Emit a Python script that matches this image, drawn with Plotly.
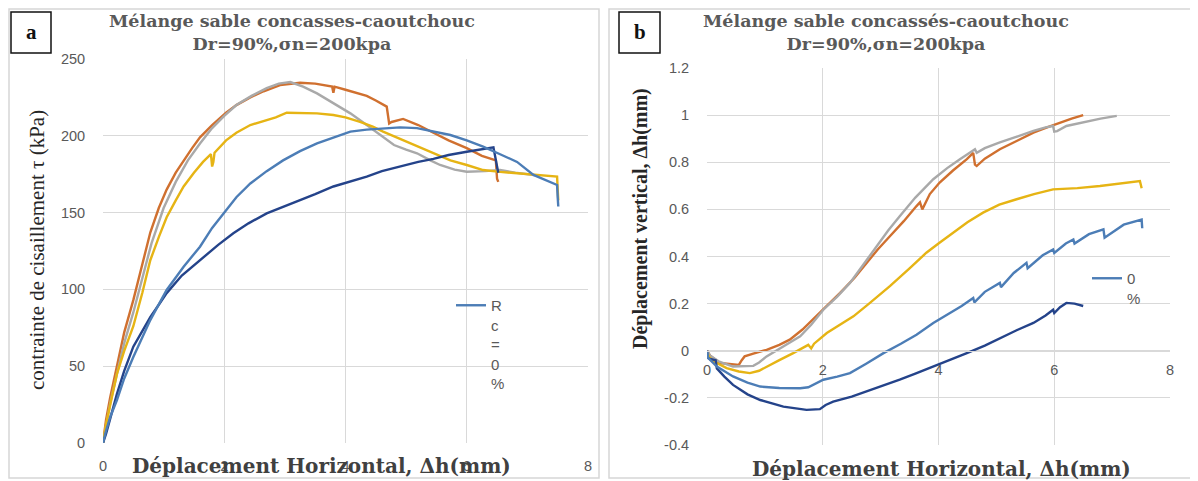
import plotly.graph_objects as go

W, H = 1198, 481

# ---------------- DATA ----------------
# Panel a : shear stress (kPa) vs horizontal displacement (mm)
a_orange_x = [0, 0.05, 0.12, 0.23, 0.35, 0.5, 0.65, 0.78, 0.92, 1.05, 1.2, 1.33, 1.47, 1.6, 1.8, 2.03, 2.2, 2.43, 2.65, 2.92, 3.1, 3.25, 3.5, 3.78, 3.8, 3.82, 4.0, 4.2, 4.35, 4.5, 4.68, 4.72, 4.76, 4.95, 5.2, 5.45, 5.7, 6.0, 6.25, 6.48, 6.5, 6.52]
a_orange_y = [0, 15, 30, 50, 72, 93, 117, 137, 153, 165, 176, 184, 192, 199, 207, 215, 220, 225, 229, 233, 234, 234.5, 234, 232, 228, 232, 230, 228, 226, 223, 219, 208, 209, 211, 207, 202, 197, 192, 187, 184, 172, 170]

a_gray_x = [0, 0.05, 0.12, 0.23, 0.35, 0.5, 0.65, 0.8, 1.0, 1.2, 1.4, 1.6, 1.8, 2.0, 2.2, 2.45, 2.7, 2.9, 3.09, 3.3, 3.53, 3.8, 4.08, 4.35, 4.62, 4.8, 5.0, 5.18, 5.4, 5.56, 5.8, 6.0, 6.3, 6.55, 6.8, 7.1, 7.2]
a_gray_y = [0, 12, 26, 45, 65, 85, 108, 130, 153, 170, 184, 195, 205, 213, 220, 226, 231, 234, 235, 232, 227.6, 221, 214.6, 207, 199, 194, 191, 188.6, 184, 181, 178, 176.6, 177, 177.7, 176, 174.5, 174]

a_gold_x = [0, 0.05, 0.12, 0.23, 0.35, 0.5, 0.65, 0.78, 0.92, 1.05, 1.2, 1.33, 1.5, 1.65, 1.78, 1.8, 1.82, 1.84, 2.03, 2.2, 2.43, 2.7, 2.85, 3.03, 3.3, 3.53, 3.8, 4.0, 4.24, 4.45, 4.62, 4.9, 5.18, 5.45, 5.73, 6.0, 6.27, 6.55, 6.83, 7.1, 7.3, 7.49, 7.5, 7.51]
a_gold_y = [0, 12, 25, 45, 60, 76, 98, 119, 134, 147, 158, 167, 176, 183, 188, 180, 183, 189, 197, 202, 207, 210, 212, 215, 215, 214.6, 213.5, 212, 209, 206, 202.7, 198, 193, 188.6, 184, 181, 177.7, 176.5, 175.6, 174.5, 174, 173.4, 165, 158]

a_steel_x = [0, 0.05, 0.12, 0.23, 0.35, 0.5, 0.78, 1.05, 1.33, 1.6, 1.8, 2.03, 2.2, 2.43, 2.7, 2.97, 3.25, 3.53, 3.8, 4.08, 4.35, 4.62, 4.9, 5.18, 5.45, 5.73, 6.0, 6.27, 6.55, 6.83, 7.1, 7.3, 7.49, 7.5, 7.51]
a_steel_y = [0, 8, 17, 28, 42, 56, 80, 99.6, 114.8, 127.8, 140, 151.7, 160, 169, 177, 184, 190, 195, 199, 202.7, 204, 204.9, 205.5, 205, 203, 200.5, 197, 193, 188, 183, 174.5, 171, 168, 160, 154]

a_navy_x = [0, 0.05, 0.12, 0.23, 0.35, 0.5, 0.65, 0.78, 0.92, 1.05, 1.3, 1.6, 1.9, 2.15, 2.4, 2.7, 3.0, 3.25, 3.5, 3.8, 4.1, 4.35, 4.6, 4.9, 5.2, 5.45, 5.7, 6.0, 6.2, 6.44, 6.5, 6.52]
a_navy_y = [0, 6, 16, 32, 47, 62.7, 73, 82, 90, 97.6, 109, 119, 129, 136.5, 143, 149.5, 154, 158, 162, 167, 170.5, 173.4, 177, 180, 183, 185, 187.5, 189.6, 191, 192.5, 180, 176]

# Panel b : vertical displacement (mm) vs horizontal displacement (mm)
b_orange_x = [0, 0.05, 0.22, 0.4, 0.55, 0.6, 0.65, 0.8, 1.03, 1.25, 1.43, 1.65, 1.89, 2.1, 2.3, 2.55, 2.76, 2.95, 3.16, 3.4, 3.62, 3.68, 3.72, 3.85, 4.02, 4.25, 4.49, 4.6, 4.63, 4.66, 4.8, 5.06, 5.35, 5.64, 5.9, 6.1, 6.3, 6.5]
b_orange_y = [0, -0.02, -0.052, -0.058, -0.06, -0.04, -0.024, -0.012, 0.004, 0.025, 0.047, 0.09, 0.146, 0.195, 0.246, 0.31, 0.373, 0.43, 0.486, 0.55, 0.614, 0.63, 0.6, 0.665, 0.714, 0.765, 0.813, 0.84, 0.79, 0.784, 0.815, 0.855, 0.89, 0.926, 0.95, 0.969, 0.985, 1.0]

b_gray_x = [0, 0.05, 0.2, 0.45, 0.8, 0.9, 1.03, 1.3, 1.61, 1.8, 2.01, 2.25, 2.47, 2.7, 2.93, 3.13, 3.33, 3.6, 3.91, 4.15, 4.37, 4.55, 4.63, 4.66, 4.8, 5.06, 5.35, 5.64, 5.85, 5.98, 6.0, 6.05, 6.21, 6.5, 6.8, 7.08]
b_gray_y = [0, -0.02, -0.045, -0.067, -0.064, -0.05, -0.024, 0.015, 0.061, 0.11, 0.174, 0.23, 0.288, 0.365, 0.444, 0.51, 0.571, 0.65, 0.728, 0.775, 0.813, 0.84, 0.855, 0.84, 0.86, 0.884, 0.91, 0.933, 0.948, 0.954, 0.93, 0.932, 0.954, 0.97, 0.985, 0.997]

b_gold_x = [0, 0.05, 0.15, 0.34, 0.55, 0.74, 0.9, 1.03, 1.25, 1.49, 1.75, 1.8, 1.85, 2.07, 2.3, 2.53, 2.8, 3.16, 3.5, 3.79, 4.0, 4.25, 4.5, 4.77, 5.05, 5.35, 5.65, 5.98, 6.4, 6.79, 7.1, 7.48, 7.5, 7.51]
b_gold_y = [-0.01, -0.03, -0.05, -0.074, -0.088, -0.095, -0.085, -0.067, -0.04, -0.01, 0.025, 0.01, 0.03, 0.075, 0.11, 0.146, 0.2, 0.274, 0.35, 0.416, 0.455, 0.501, 0.545, 0.586, 0.62, 0.643, 0.665, 0.685, 0.69, 0.699, 0.708, 0.72, 0.7, 0.69]

b_steel_x = [0, 0.02, 0.17, 0.45, 0.7, 0.92, 1.25, 1.61, 1.75, 1.84, 2.01, 2.25, 2.47, 2.75, 3.05, 3.35, 3.62, 3.91, 4.2, 4.4, 4.6, 4.62, 4.8, 5.06, 5.08, 5.3, 5.52, 5.54, 5.8, 5.98, 6.0, 6.2, 6.33, 6.35, 6.6, 6.85, 6.87, 7.2, 7.51, 7.52]
b_steel_y = [0, -0.03, -0.067, -0.109, -0.135, -0.152, -0.158, -0.159, -0.155, -0.145, -0.123, -0.11, -0.095, -0.055, -0.01, 0.03, 0.068, 0.118, 0.16, 0.19, 0.224, 0.205, 0.25, 0.288, 0.27, 0.33, 0.373, 0.35, 0.405, 0.43, 0.415, 0.455, 0.472, 0.455, 0.495, 0.515, 0.48, 0.535, 0.557, 0.52]

b_navy_x = [0, 0.01, 0.05, 0.15, 0.17, 0.3, 0.45, 0.7, 0.92, 1.32, 1.72, 1.95, 2.05, 2.18, 2.5, 2.76, 3.05, 3.33, 3.6, 3.91, 4.2, 4.49, 4.8, 5.06, 5.35, 5.64, 5.85, 5.98, 6.0, 6.1, 6.21, 6.35, 6.5]
b_navy_y = [0, -0.03, -0.035, -0.04, -0.075, -0.11, -0.145, -0.185, -0.209, -0.237, -0.251, -0.248, -0.23, -0.216, -0.195, -0.173, -0.148, -0.123, -0.097, -0.067, -0.04, -0.01, 0.022, 0.054, 0.087, 0.118, 0.15, 0.174, 0.16, 0.185, 0.203, 0.2, 0.19]

legend_a_name = "R<br>c<br>=<br>0<br>%"
legend_b_name = "0<br>%"
title_text_a = "Mélange sable concasses-caoutchouc<br>Dr=90%,σn=200kpa"
title_text_b = "Mélange sable concassés-caoutchouc<br>Dr=90%,σn=200kpa"
xtitle = "Déplacement Horizontal, Δh(mm)"
ytitle_a = "contrainte de cisaillement τ (kPa)"
ytitle_b = "Déplacement vertical, Δh(mm)"
a_yticks = [0, 50, 100, 150, 200, 250]
b_yticks = [-0.4, -0.2, 0, 0.2, 0.4, 0.6, 0.8, 1, 1.2]
b_yticklabels = ["-0.4", "-0.2", "0", "0.2", "0.4", "0.6", "0.8", "1", "1.2"]
xticks = [0, 2, 4, 6, 8]

# ---------------- STYLE ----------------
C_ORANGE = "#D0702F"
C_GRAY = "#A9A9A9"
C_GOLD = "#E6B414"
C_STEEL = "#4C7DB6"
C_NAVY = "#24438A"
GRID = "#D9D9D9"
TICKC = "#595959"
LW = 2.4

# the page places the figure 8 px in from the top-left corner
OFF = 8


def fx(px):
    return (px - OFF) / W


def fy(py):
    return 1 - (py - OFF) / H


fig = go.Figure()

series_a = [
    (a_orange_x, a_orange_y, C_ORANGE, None),
    (a_gray_x, a_gray_y, C_GRAY, None),
    (a_gold_x, a_gold_y, C_GOLD, None),
    (a_navy_x, a_navy_y, C_NAVY, None),
    (a_steel_x, a_steel_y, C_STEEL, legend_a_name),
]
for xs, ys, c, name in series_a:
    fig.add_trace(go.Scatter(
        x=xs, y=ys, mode="lines", line=dict(color=c, width=LW),
        xaxis="x", yaxis="y", name=name if name else "",
        showlegend=bool(name), legend="legend", hoverinfo="skip"))

series_b = [
    (b_orange_x, b_orange_y, C_ORANGE, None),
    (b_gray_x, b_gray_y, C_GRAY, None),
    (b_gold_x, b_gold_y, C_GOLD, None),
    (b_navy_x, b_navy_y, C_NAVY, None),
    (b_steel_x, b_steel_y, C_STEEL, legend_b_name),
]
for xs, ys, c, name in series_b:
    fig.add_trace(go.Scatter(
        x=xs, y=ys, mode="lines", line=dict(color=c, width=LW),
        xaxis="x2", yaxis="y2", name=name if name else "",
        showlegend=bool(name), legend="legend2", hoverinfo="skip"))

tickfont = dict(family="Liberation Sans", size=14.5, color=TICKC)
common_axis = dict(showgrid=True, gridcolor=GRID, gridwidth=1, zeroline=False,
                   ticks="outside", tickcolor="rgba(0,0,0,0)", tickfont=tickfont,
                   automargin=False, fixedrange=True)

fig.update_layout(
    template="none",
    width=W, height=H, autosize=False,
    margin=dict(l=0, r=0, t=0, b=0, pad=0),
    paper_bgcolor="white", plot_bgcolor="white",
    xaxis=dict(domain=[fx(103), fx(588)], range=[0, 8], tickvals=xticks,
               showline=False, ticklen=10, anchor="y", **common_axis),
    yaxis=dict(domain=[fy(443), fy(59)], range=[0, 250], tickvals=a_yticks,
               showline=False, ticklen=14, anchor="x", **common_axis),
    xaxis2=dict(domain=[fx(707), fx(1170)], range=[0, 8], tickvals=xticks,
                showline=True, linecolor=GRID, linewidth=1, ticklen=6,
                anchor="free",
                position=fy(445) + (fy(68) - fy(445)) * (0.4 / 1.6),
                **common_axis),
    yaxis2=dict(domain=[fy(445), fy(68)], range=[-0.4, 1.2], tickvals=b_yticks,
                ticktext=b_yticklabels, showline=False, ticklen=14, anchor="x2",
                **common_axis),
    legend=dict(x=fx(451), y=fy(289), xanchor="left", yanchor="top",
                bgcolor="rgba(0,0,0,0)", borderwidth=0, valign="top",
                font=dict(family="Liberation Sans", size=15, color=TICKC),
                itemwidth=30, tracegroupgap=0),
    legend2=dict(x=fx(1087), y=fy(262), xanchor="left", yanchor="top",
                 bgcolor="rgba(0,0,0,0)", borderwidth=0, valign="top",
                 font=dict(family="Liberation Sans", size=15, color=TICKC),
                 itemwidth=30, tracegroupgap=0),
    showlegend=True,
)

# panel frames and label boxes
shapes = [
    dict(type="rect", xref="paper", yref="paper", x0=fx(9), x1=fx(599), y0=fy(478), y1=fy(9),
         line=dict(color="#D6D6D6", width=1.5), layer="below"),
    dict(type="rect", xref="paper", yref="paper", x0=fx(609), x1=fx(1196), y0=fy(478), y1=fy(9),
         line=dict(color="#D6D6D6", width=1.5), layer="below"),
    dict(type="rect", xref="paper", yref="paper", x0=fx(11), x1=fx(51), y0=fy(53), y1=fy(12),
         line=dict(color="#111111", width=1.5), fillcolor="white", layer="above"),
    dict(type="rect", xref="paper", yref="paper", x0=fx(619), x1=fx(660), y0=fy(53), y1=fy(12),
         line=dict(color="#111111", width=1.5), fillcolor="white", layer="above"),
]
fig.update_layout(shapes=shapes)

title_font = dict(family="DejaVu Serif", size=17.5, color="#595959", weight="bold")
xt_font = dict(family="DejaVu Serif", size=20, color="#404040", weight="bold")

annotations = [
    dict(text=title_text_a, x=fx(292), y=fy(33), xref="paper", yref="paper",
         showarrow=False, xanchor="center", yanchor="middle", font=title_font),
    dict(text=title_text_b, x=fx(886), y=fy(33), xref="paper", yref="paper",
         showarrow=False, xanchor="center", yanchor="middle", font=title_font),
    dict(text=xtitle, x=fx(321), y=fy(466), xref="paper", yref="paper",
         showarrow=False, xanchor="center", yanchor="middle", font=xt_font),
    dict(text=xtitle, x=fx(941), y=fy(469), xref="paper", yref="paper",
         showarrow=False, xanchor="center", yanchor="middle", font=xt_font),
    dict(text=ytitle_a, x=fx(37), y=fy(250), xref="paper", yref="paper", textangle=-90,
         showarrow=False, xanchor="center", yanchor="middle",
         font=dict(family="Liberation Serif", size=21, color="#262626")),
    dict(text=ytitle_b, x=fx(640), y=fy(219), xref="paper", yref="paper", textangle=-90,
         showarrow=False, xanchor="center", yanchor="middle",
         font=dict(family="Liberation Serif", size=20, color="#262626", weight="bold")),
    dict(text="a", x=fx(31), y=fy(32), xref="paper", yref="paper",
         showarrow=False, xanchor="center", yanchor="middle",
         font=dict(family="Liberation Serif", size=21, color="#111111", weight="bold")),
    dict(text="b", x=fx(639.5), y=fy(32), xref="paper", yref="paper",
         showarrow=False, xanchor="center", yanchor="middle",
         font=dict(family="Liberation Serif", size=21, color="#111111", weight="bold")),
]
fig.update_layout(annotations=annotations)

fig.write_html("out.html")
